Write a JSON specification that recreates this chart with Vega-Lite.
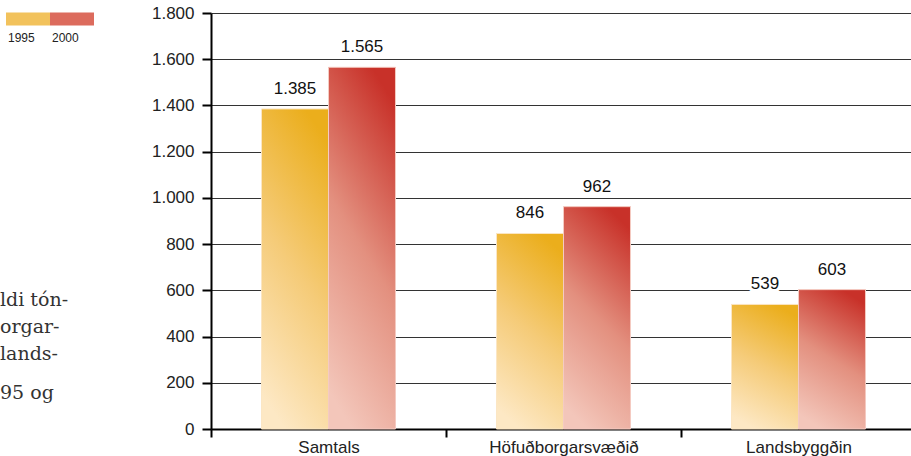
{
  "$schema": "https://vega.github.io/schema/vega-lite/v6.json",
  "width": 705,
  "height": 416,
  "autosize": {"type": "none"},
  "padding": {"left": 211, "top": 13, "right": 0, "bottom": 27},
  "background": "white",
  "config": {
    "locale": {"number": {"decimal": ",", "thousands": ".", "grouping": [3], "currency": ["", ""]}},
    "view": {"stroke": null},
    "font": "Liberation Sans"
  },
  "title": {
    "text": ["ldi tón-", "orgar-", "lands-"],
    "subtitle": "95 og",
    "orient": "top",
    "anchor": "start",
    "frame": "group",
    "align": "left",
    "dx": -211,
    "dy": 406,
    "offset": 0,
    "font": "DejaVu Serif",
    "fontSize": 19,
    "fontWeight": "normal",
    "color": "#333333",
    "lineHeight": 27,
    "subtitleFont": "DejaVu Serif",
    "subtitleFontSize": 19,
    "subtitleColor": "#333333",
    "subtitlePadding": 20
  },
  "data": {
    "values": [
      {"svaedi": "Samtals", "ar": "1995", "fjoldi": 1385},
      {"svaedi": "Samtals", "ar": "2000", "fjoldi": 1565},
      {"svaedi": "Höfuðborgarsvæðið", "ar": "1995", "fjoldi": 846},
      {"svaedi": "Höfuðborgarsvæðið", "ar": "2000", "fjoldi": 962},
      {"svaedi": "Landsbyggðin", "ar": "1995", "fjoldi": 539},
      {"svaedi": "Landsbyggðin", "ar": "2000", "fjoldi": 603}
    ]
  },
  "encoding": {
    "x": {
      "field": "svaedi",
      "type": "nominal",
      "sort": null,
      "scale": {"paddingInner": 0, "paddingOuter": 0},
      "axis": {
        "title": null,
        "labelAngle": 0,
        "labelFontSize": 17,
        "labelColor": "#222222",
        "labelPadding": 2,
        "tickBand": "extent",
        "tickSize": 8,
        "tickWidth": 2,
        "tickColor": "#000000",
        "domainColor": "#000000",
        "domainWidth": 2,
        "grid": false
      }
    },
    "xOffset": {
      "field": "ar",
      "type": "nominal",
      "scale": {"paddingInner": 0, "paddingOuter": 0.754}
    },
    "y": {
      "field": "fjoldi",
      "type": "quantitative",
      "scale": {"domain": [0, 1800], "nice": false},
      "axis": {
        "title": null,
        "values": [0, 200, 400, 600, 800, 1000, 1200, 1400, 1600, 1800],
        "format": ",d",
        "labelFontSize": 17,
        "labelColor": "#222222",
        "labelPadding": 8,
        "tickSize": 9,
        "tickWidth": 2,
        "tickColor": "#000000",
        "domainColor": "#000000",
        "domainWidth": 2,
        "grid": true,
        "gridColor": "#333333",
        "gridWidth": 1.2
      }
    }
  },
  "layer": [
    {
      "mark": {"type": "bar"},
      "encoding": {
        "color": {
          "field": "ar",
          "type": "nominal",
          "scale": {"domain": ["1995", "2000"], "range": ["#f2c25c", "#dc6b5d"]},
          "legend": {
            "orient": "none",
            "legendX": -205,
            "legendY": -16,
            "direction": "horizontal",
            "title": null,
            "padding": 0,
            "symbolType": "M-1,-0.3H1V0.3H-1Z",
            "symbolSize": 1936,
            "symbolStrokeWidth": 0,
            "symbolOpacity": 1,
            "columnPadding": 0,
            "labelOffset": -42,
            "labelFontSize": 12,
            "labelColor": "#222222",
            "labelBaseline": "top",
            "labelExpr": "['', datum.label]"
          }
        }
      }
    },
    {
      "mark": {"type": "bar", "strokeWidth": 1},
      "encoding": {
        "fill": {
          "condition": {
            "test": "datum.ar == '1995'",
            "value": {"gradient": "linear", "x1": 0.35, "y1": 1, "x2": 0.65, "y2": 0, "stops": [{"offset": 0, "color": "#fde8c4"}, {"offset": 0.5, "color": "#f5cb78"}, {"offset": 1, "color": "#ebae1c"}]}
          },
          "value": {"gradient": "linear", "x1": 0.35, "y1": 1, "x2": 0.65, "y2": 0, "stops": [{"offset": 0, "color": "#f3c6ba"}, {"offset": 0.5, "color": "#e3907f"}, {"offset": 1, "color": "#c83129"}]}
        },
        "stroke": {
          "condition": {"test": "datum.ar == '1995'", "value": "#fbe6c4"},
          "value": "#f4cbc2"
        }
      }
    },
    {
      "mark": {"type": "text", "fontSize": 17, "baseline": "middle", "dy": -20, "stroke": "white", "strokeWidth": 7, "fill": "white"},
      "encoding": {"text": {"field": "fjoldi", "type": "quantitative", "format": ",d"}}
    },
    {
      "mark": {"type": "text", "fontSize": 17, "baseline": "middle", "dy": -20, "fill": "#111111"},
      "encoding": {"text": {"field": "fjoldi", "type": "quantitative", "format": ",d"}}
    }
  ]
}
